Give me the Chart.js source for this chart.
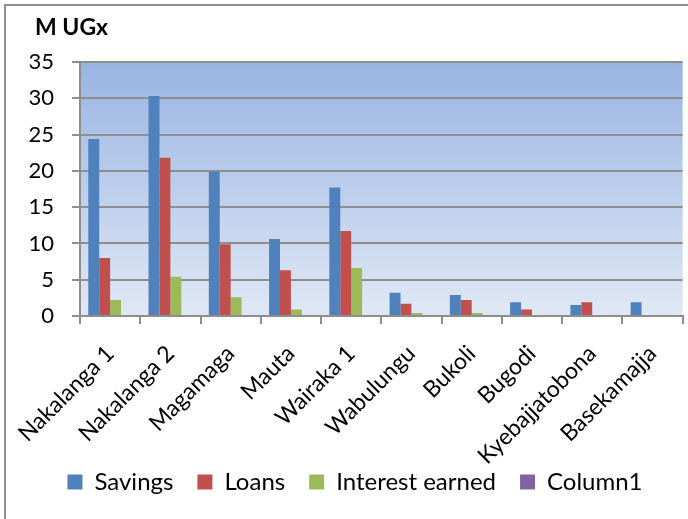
<!DOCTYPE html>
<html>
<head>
<meta charset="utf-8">
<script src="https://cdn.jsdelivr.net/npm/chart.js@4.4.1/dist/chart.umd.min.js"></script>
<style>
  html, body { margin: 0; padding: 0; background: #fff; overflow: hidden; }
  #wrap { position: relative; width: 688px; height: 519px; }
</style>
</head>
<body>
<div id="wrap"><canvas id="myChart" width="688" height="519"></canvas></div>
<script>
// values, in millions of UGX
const groups = ["Nakalanga 1", "Nakalanga 2", "Magamaga", "Mauta", "Wairaka 1",
  "Wabulungu", "Bukoli", "Bugodi", "Kyebajjatobona", "Basekamajja"];
const savings = [24.4, 30.3, 19.9, 10.6, 17.7, 3.2, 2.9, 1.9, 1.5, 1.9];
const loans = [8.0, 21.8, 9.9, 6.3, 11.7, 1.7, 2.2, 0.9, 1.9, 0];
const interestEarned = [2.2, 5.4, 2.6, 0.9, 6.6, 0.4, 0.4, 0.1, 0, 0];
const column1 = [0, 0, 0, 0, 0, 0, 0, 0, 0, 0];
const yTicks = [0, 5, 10, 15, 20, 25, 30, 35];
const unitTitle = "M UGx";

const font = "Lato, 'Open Sans', sans-serif";
const gridGrey = "#8e8e8e";

// white page, grey frame, the blue plot-area fill and the unit title
const backdrop = {
  id: "backdrop",
  beforeDraw(chart) {
    const ctx = chart.ctx;
    const a = chart.chartArea;
    ctx.save();
    ctx.fillStyle = "#ffffff";
    ctx.fillRect(0, 0, chart.width, chart.height);
    const g = ctx.createLinearGradient(0, a.top, 0, a.bottom);
    g.addColorStop(0, "#99b4e2");
    g.addColorStop(1, "#e0e8f5");
    ctx.fillStyle = g;
    ctx.fillRect(a.left, a.top, a.right - a.left, a.bottom - a.top);
    ctx.strokeStyle = gridGrey;
    ctx.lineWidth = 2;
    ctx.beginPath();
    ctx.moveTo(5, chart.height);
    ctx.lineTo(5, 5);
    ctx.lineTo(chart.width, 5);
    ctx.stroke();
    ctx.fillStyle = "#000";
    ctx.font = "bold 23px " + font;
    ctx.textAlign = "left";
    ctx.textBaseline = "middle";
    ctx.fillText(unitTitle, 35, 28);
    ctx.restore();
  }
};

const data = {
  labels: groups,
  datasets: [
    { label: "Savings", data: savings, backgroundColor: "#4f81bd" },
    { label: "Loans", data: loans, backgroundColor: "#c0504d" },
    { label: "Interest earned", data: interestEarned, backgroundColor: "#9bbb59" },
    { label: "Column1", data: column1, backgroundColor: "#8064a2" },
  ],
};

const config = {
  type: "bar",
  data: data,
  plugins: [backdrop],
  options: {
    responsive: false,
    animation: false,
    layout: { padding: { left: 22, right: 0, top: 62, bottom: 15 } },
    datasets: {
      bar: { categoryPercentage: 0.725, barPercentage: 1, borderWidth: 0 },
    },
    plugins: {
      title: { display: false },
      legend: {
        position: "bottom",
        labels: {
          color: "#000",
          font: { family: font, size: 24 },
          boxWidth: 15,
          boxHeight: 15,
          padding: 24,
        },
      },
      tooltip: { enabled: false },
    },
    scales: {
      x: {
        grid: {
          offset: true,
          drawOnChartArea: false,
          tickLength: 8,
          color: gridGrey,
          lineWidth: 2,
        },
        border: { display: true, color: gridGrey, width: 2 },
        ticks: {
          color: "#000",
          font: { family: font, size: 23 },
          maxRotation: 45,
          minRotation: 45,
          autoSkip: false,
          padding: 16,
        },
        afterFit(scale) {
          scale.height = 130;
          // long rotated names run down into the legend strip, as in the original
          scale._computeLabelArea = () => undefined;
        },
      },
      y: {
        min: 0,
        max: 35,
        afterBuildTicks(scale) { scale.ticks = yTicks.map(v => ({ value: v })); },
        grid: { color: gridGrey, lineWidth: 2, tickLength: 8 },
        border: { display: true, color: gridGrey, width: 2 },
        ticks: {
          color: "#000",
          font: { family: font, size: 22 },
          padding: 18,
        },
        afterFit(scale) { scale.width = 58; },
      },
    },
  },
};

new Chart(document.getElementById("myChart"), config);
</script>
</body>
</html>
